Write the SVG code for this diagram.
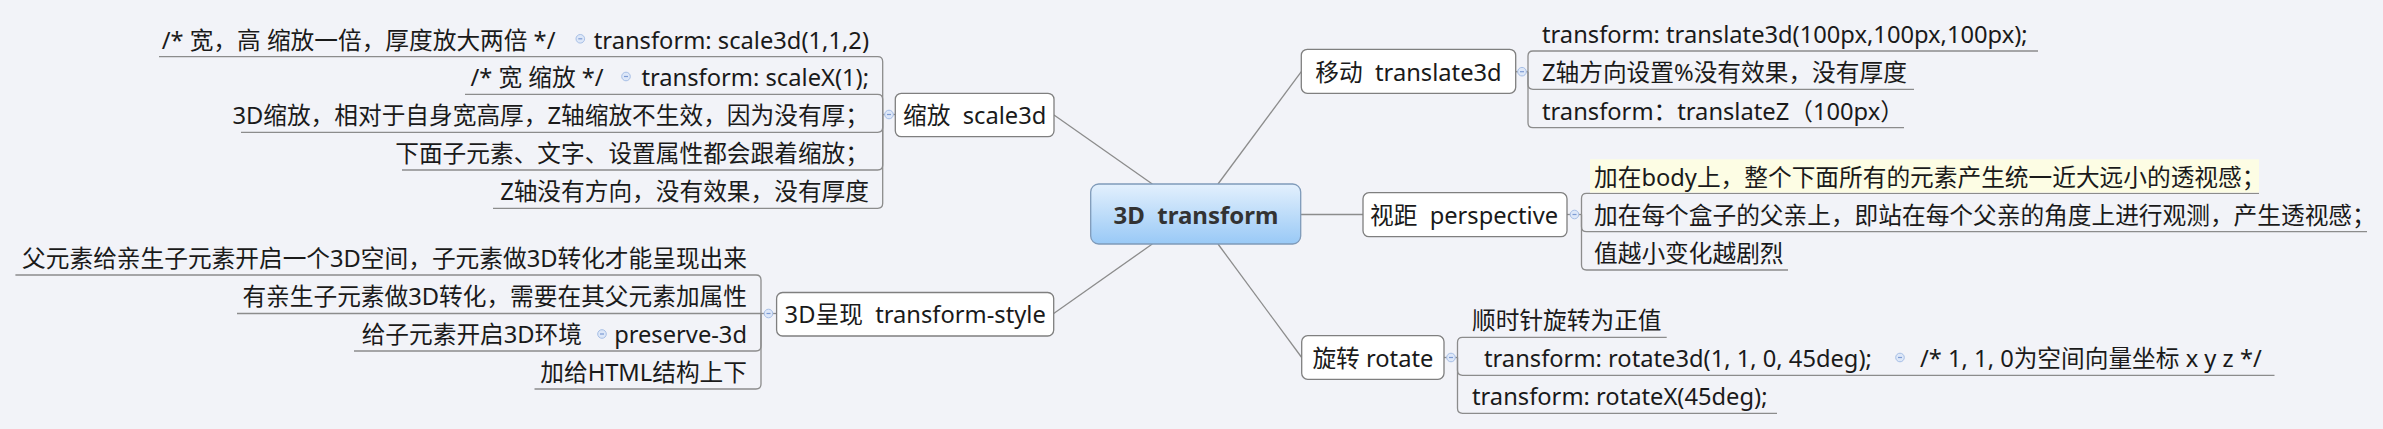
<svg xmlns="http://www.w3.org/2000/svg" width="2383" height="429" viewBox="0 0 2383 429" xml:space="preserve">
<defs>
<linearGradient id="cg" x1="0" y1="0" x2="0" y2="1">
<stop offset="0" stop-color="#e3f0fd"/>
<stop offset="1" stop-color="#99c9f6"/>
</linearGradient>
<style>
text{white-space:pre}
.t{font-family:"Noto Sans","Noto Sans CJK SC",sans-serif;font-size:23.7px;fill:#1a1a1a;dominant-baseline:central}
.e{text-anchor:end}
.m{text-anchor:middle}
.box{fill:#ffffff;stroke:#7f7f7f;stroke-width:1.3}
.ln{fill:none;stroke:#8c8c8c;stroke-width:1.3}
.cc{fill:#dde7f8;stroke:#a7bfe6;stroke-width:1}
.cm{stroke:#7d9bd4;stroke-width:1.2}
.ctr{font-family:"Noto Sans","Noto Sans CJK SC",sans-serif;font-size:24px;font-weight:bold;fill:#333333;text-anchor:middle;dominant-baseline:central}
</style>
</defs>
<rect x="0" y="0" width="2383" height="429" fill="#f2f3f8"/>

<g id="connectors" class="ln">
<path d="M1152.3,184 L1054,115"/>
<path d="M1218,184 L1301.3,71.7"/>
<path d="M1300.7,214.5 L1363,214.5"/>
<path d="M1152.3,244 L1053.7,313.5"/>
<path d="M1218,244 L1301.7,357.5"/>
<path d="M882.7,114.5 H895.3"/>
<path d="M159,56.7 H877.7 Q882.7,56.7 882.7,61.7 V114.5"/>
<path d="M465,94.3 H877.7 Q882.7,94.3 882.7,99.3 V114.5"/>
<path d="M241,132.3 H877.7 Q882.7,132.3 882.7,127.3 V114.5"/>
<path d="M402,170 H877.7 Q882.7,170 882.7,165 V114.5"/>
<path d="M493,208.3 H877.7 Q882.7,208.3 882.7,203.3 V114.5"/>
<path d="M761,313.5 H776.6"/>
<path d="M15.4,275 H756 Q761,275 761,280 V313.5"/>
<path d="M237,313.5 H761"/>
<path d="M354,351 H756 Q761,351 761,346 V313.5"/>
<path d="M534.5,389 H756 Q761,389 761,384 V313.5"/>
<path d="M1515.7,71.7 H1528"/>
<path d="M1528,71.7 V56 Q1528,51 1533,51 H2038"/>
<path d="M1528,71.7 V84.3 Q1528,89.3 1533,89.3 H1914"/>
<path d="M1528,71.7 V122.7 Q1528,127.7 1533,127.7 H1904"/>
<path d="M1567,214.5 H1581.5"/>
<path d="M1581.5,214.5 V198.3 Q1581.5,193.3 1586.5,193.3 H2259"/>
<path d="M1581.5,214.5 V226.7 Q1581.5,231.7 1586.5,231.7 H2367"/>
<path d="M1581.5,214.5 V265 Q1581.5,270 1586.5,270 H1788"/>
<path d="M1444,357.5 H1457.5"/>
<path d="M1457.5,357.5 V342.3 Q1457.5,337.3 1462.5,337.3 H1666.7"/>
<path d="M1457.5,357.5 V370.3 Q1457.5,375.3 1462.5,375.3 H2274.5"/>
<path d="M1457.5,357.5 V408.3 Q1457.5,413.3 1462.5,413.3 H1777"/>
</g>

<g id="collapse-markers">
<g><circle class="cc" cx="889" cy="114.5" r="4.3"/><line class="cm" x1="887" y1="114.5" x2="891" y2="114.5"/></g>
<g><circle class="cc" cx="768.5" cy="313.5" r="4.3"/><line class="cm" x1="766.5" y1="313.5" x2="770.5" y2="313.5"/></g>
<g><circle class="cc" cx="1522" cy="71.7" r="4.3"/><line class="cm" x1="1520" y1="71.7" x2="1524" y2="71.7"/></g>
<g><circle class="cc" cx="1574.5" cy="214.5" r="4.3"/><line class="cm" x1="1572.5" y1="214.5" x2="1576.5" y2="214.5"/></g>
<g><circle class="cc" cx="1451" cy="357.5" r="4.3"/><line class="cm" x1="1449" y1="357.5" x2="1453" y2="357.5"/></g>
<g><circle class="cc" cx="580.3" cy="38.8" r="4.3"/><line class="cm" x1="578.3" y1="38.8" x2="582.3" y2="38.8"/></g>
<g><circle class="cc" cx="626" cy="76.5" r="4.3"/><line class="cm" x1="624" y1="76.5" x2="628" y2="76.5"/></g>
<g><circle class="cc" cx="602" cy="334" r="4.3"/><line class="cm" x1="600" y1="334" x2="604" y2="334"/></g>
<g><circle class="cc" cx="1900" cy="357.5" r="4.3"/><line class="cm" x1="1898" y1="357.5" x2="1902" y2="357.5"/></g>
</g>

<g id="center">
<rect x="1090.7" y="184" width="210" height="60" rx="8" fill="url(#cg)" stroke="#7f9ab9" stroke-width="1.3"/>
<text class="ctr" x="1196" y="214.5">3D  transform</text>
</g>

<g id="scale3d">
<rect class="box" x="895.3" y="93.3" width="158.7" height="43.4" rx="6"/>
<text class="t m" x="974.7" y="115">缩放  scale3d</text>
</g>
<g id="translate3d">
<rect class="box" x="1301.3" y="49.3" width="214.4" height="44" rx="6"/>
<text class="t m" x="1408.5" y="71.5">移动  translate3d</text>
</g>
<g id="perspective">
<rect class="box" x="1363" y="192.7" width="204" height="44" rx="6"/>
<text class="t m" x="1464" y="214.7">视距  perspective</text>
</g>
<g id="transform-style">
<rect class="box" x="776.6" y="292.5" width="277.1" height="43.5" rx="6"/>
<text class="t m" x="915.2" y="314.3">3D呈现  transform-style</text>
</g>
<g id="rotate">
<rect class="box" x="1301.7" y="335.7" width="142.3" height="43.6" rx="6"/>
<text class="t m" x="1372.9" y="357.5">旋转 rotate</text>
</g>

<g id="scale3d-1"><text class="t e" x="869" y="39.5">transform: scale3d(1,1,2)</text></g>
<g id="scale3d-1-note"><text class="t e" x="555.5" y="39.5">/* 宽，高 缩放一倍，厚度放大两倍 */</text></g>
<g id="scale3d-2"><text class="t e" x="869" y="77.3">transform: scaleX(1);</text></g>
<g id="scale3d-2-note"><text class="t e" x="603.7" y="77.3">/* 宽 缩放 */</text></g>
<g id="scale3d-3"><text class="t e" x="869" y="115.3">3D缩放，相对于自身宽高厚，Z轴缩放不生效，因为没有厚；</text></g>
<g id="scale3d-4"><text class="t e" x="869" y="153">下面子元素、文字、设置属性都会跟着缩放；</text></g>
<g id="scale3d-5"><text class="t e" x="869" y="191.3">Z轴没有方向，没有效果，没有厚度</text></g>

<g id="style-1"><text class="t e" x="747" y="258">父元素给亲生子元素开启一个3D空间，子元素做3D转化才能呈现出来</text></g>
<g id="style-2"><text class="t e" x="747" y="296.3">有亲生子元素做3D转化，需要在其父元素加属性</text></g>
<g id="style-3"><text class="t e" x="582" y="334">给子元素开启3D环境</text></g>
<g id="style-3-value"><text class="t e" x="747" y="334">preserve-3d</text></g>
<g id="style-4"><text class="t e" x="747" y="372">加给HTML结构上下</text></g>

<g id="translate-1"><text class="t" x="1542" y="34">transform: translate3d(100px,100px,100px);</text></g>
<g id="translate-2"><text class="t" x="1542" y="72.3">Z轴方向设置%没有效果，没有厚度</text></g>
<g id="translate-3"><text class="t" x="1542" y="110.7">transform：translateZ（100px）</text></g>

<g id="perspective-1">
<rect x="1590" y="159.3" width="669" height="33.3" fill="#fdfde4"/>
<text class="t" x="1594" y="176.5">加在body上，整个下面所有的元素产生统一近大远小的透视感；</text>
</g>
<g id="perspective-2"><text class="t" x="1594" y="214.7">加在每个盒子的父亲上，即站在每个父亲的角度上进行观测，产生透视感；</text></g>
<g id="perspective-3"><text class="t" x="1594" y="253">值越小变化越剧烈</text></g>

<g id="rotate-1"><text class="t" x="1472" y="320">顺时针旋转为正值</text></g>
<g id="rotate-2"><text class="t" x="1484" y="358">transform: rotate3d(1, 1, 0, 45deg);</text></g>
<g id="rotate-2-note"><text class="t" x="1920" y="358">/* 1, 1, 0为空间向量坐标 x y z */</text></g>
<g id="rotate-3"><text class="t" x="1472" y="396">transform: rotateX(45deg);</text></g>
</svg>
